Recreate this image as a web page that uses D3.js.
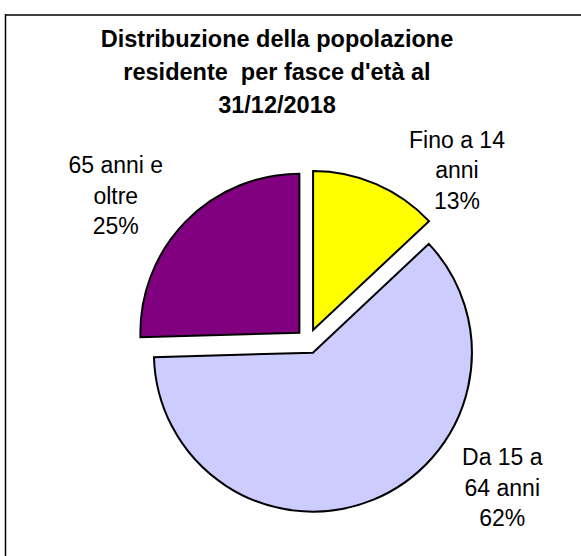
<!DOCTYPE html>
<html>
<head>
<meta charset="utf-8">
<script src="https://cdn.jsdelivr.net/npm/d3@7"></script>
<style>
  html, body { margin: 0; padding: 0; background: #fff; }
  svg { display: block; }
  text { font-family: "Liberation Sans", Arial, sans-serif; fill: #000; white-space: pre; }
</style>
</head>
<body>
<svg id="chart" width="581" height="556"></svg>
<script>
// ---- data ----
const titleLines = ["Distribuzione della popolazione", "residente  per fasce d'età al", "31/12/2018"];
const categories = ["Fino a 14 anni", "Da 15 a 64 anni", "65 anni e oltre"];
const values = [13.0, 61.55, 25.45];
const colors = ["#FFFF00", "#CCCCFF", "#800080"];
const labelLines = [
  ["Fino a 14", "anni"],
  ["Da 15 a", "64 anni"],
  ["65 anni e", "oltre"]
];

// ---- layout ----
const W = 581, H = 556;
const cx = 308.2, cy = 341.3, R = 159, explode = 12.3;
const labelPos = [[457, 147.5], [502.3, 465], [115.8, 173.3]];
const lineH = 30.5;

const svg = d3.select("#chart");

// frame (only top and left edges visible)
svg.append("line").attr("x1", 5).attr("x2", 581).attr("y1", 15).attr("y2", 15)
  .attr("stroke", "#404040").attr("stroke-width", 2);
svg.append("line").attr("x1", 5.5).attr("x2", 5.5).attr("y1", 14).attr("y2", 556)
  .attr("stroke", "#000").attr("stroke-width", 1.5);

// title
const title = svg.append("text")
  .attr("text-anchor", "middle")
  .style("font-weight", "bold")
  .style("font-size", "23.5px");
titleLines.forEach((t, i) => {
  title.append("tspan").attr("x", 277).attr("y", 46.7 + i * 33).text(t);
});

// pie
const total = d3.sum(values);
const pie = d3.pie().sort(null).value(d => d).startAngle(0).endAngle(2 * Math.PI);
const arcs = pie(values);
const arcGen = d3.arc().innerRadius(0).outerRadius(R);

const g = svg.append("g").attr("transform", `translate(${cx},${cy})`);
g.selectAll("path")
  .data(arcs)
  .join("path")
  .attr("transform", d => {
    const a = (d.startAngle + d.endAngle) / 2;
    return `translate(${explode * Math.sin(a)},${-explode * Math.cos(a)})`;
  })
  .attr("d", arcGen)
  .attr("fill", (d, i) => colors[i])
  .attr("stroke", "#000")
  .attr("stroke-width", 2)
  .attr("stroke-linejoin", "miter");

// labels
const fmt = v => Math.round(v / total * 100) + "%";
arcs.forEach((d, i) => {
  const t = svg.append("text")
    .attr("text-anchor", "middle")
    .style("font-size", "23px");
  const lines = labelLines[i].concat([fmt(values[i])]);
  lines.forEach((ln, j) => {
    t.append("tspan").attr("x", labelPos[i][0]).attr("y", labelPos[i][1] + j * lineH).text(ln);
  });
});
</script>
</body>
</html>
